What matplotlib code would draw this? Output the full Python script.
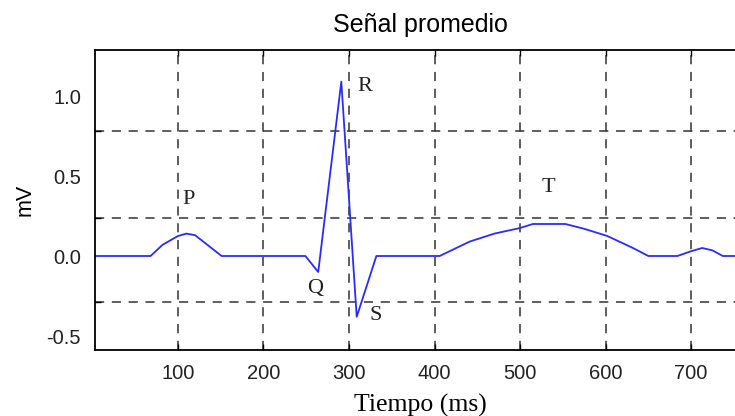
import matplotlib
matplotlib.use("Agg")
import matplotlib.pyplot as plt

# averaged ECG beat
t_ms = [3, 68, 82, 100, 110, 120, 132, 151, 249, 264, 291, 309, 332, 406,
        441, 470, 500, 515, 553, 575, 602, 632, 650, 684, 700, 713, 725, 737, 763]
mv = [0, 0, 0.07, 0.125, 0.14, 0.13, 0.08, 0, 0, -0.10, 1.09, -0.38, 0, 0,
      0.09, 0.14, 0.175, 0.20, 0.20, 0.17, 0.125, 0.05, 0, 0, 0.03, 0.05, 0.035, 0, 0]

# wave labels (name, time, value)
wave_names = ["P", "Q", "R", "S", "T"]
wave_t = [112, 260, 318, 331, 533]
wave_v = [0.35, -0.20, 1.06, -0.375, 0.43]

x_ticks = [100, 200, 300, 400, 500, 600, 700]
y_labels = [-0.5, 0.0, 0.5, 1.0]
y_grid = [-0.29, 0.24, 0.78]

fig = plt.figure(figsize=(7.35, 4.16), dpi=100)
ax = fig.add_axes([95 / 735, 1 - 350 / 416, 650 / 735, 300 / 416])

ax.plot(t_ms, mv, color="#2b2bff", lw=1.3)

for name, tx, vy in zip(wave_names, wave_t, wave_v):
    ax.text(tx, vy, name, family="Liberation Serif", fontsize=16,
            ha="center", va="center", color="#222222")

ax.set_xlim(3, 763)
ax.set_ylim(-0.5875, 1.2875)

ax.set_xticks(x_ticks)
ax.set_xticklabels([str(x) for x in x_ticks])
ax.set_yticks(y_grid)
ax.set_yticklabels([""] * len(y_grid))
ax.set_yticks(y_labels, minor=True)
ax.set_yticklabels(["%.1f" % v for v in y_labels], minor=True)

ax.tick_params(axis="both", which="major", direction="in", length=4,
               width=1, color="black", top=True)
ax.tick_params(axis="y", which="minor", length=0, pad=10)
ax.tick_params(axis="x", which="major", pad=10)
for lab in ax.get_xticklabels() + ax.get_yticklabels(minor=True):
    lab.set_family("Liberation Sans")
    lab.set_fontsize(14.5)
    lab.set_color("#222222")

ax.grid(True, which="major", color="#333333", linestyle=(0, (6, 5)), lw=1.1)

for sp in ax.spines.values():
    sp.set_linewidth(1.3)

ax.set_title("Señal promedio", family="Liberation Sans", fontsize=18, pad=13)
ax.set_xlabel("Tiempo (ms)", family="Liberation Serif", fontsize=18.5, labelpad=8)
ax.set_ylabel("mV", family="Liberation Sans", fontsize=15.5, labelpad=8)

fig.savefig("out.png", dpi=100)
